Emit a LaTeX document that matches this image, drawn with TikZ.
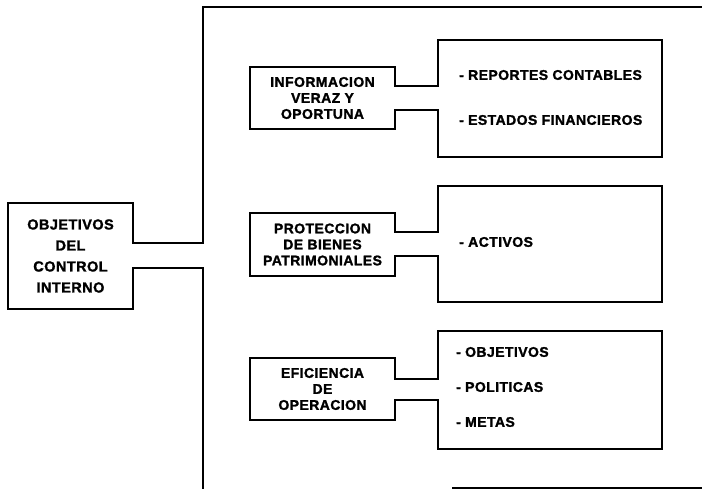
\documentclass[tikz,border=0pt]{standalone}
\usepackage{fontspec}
\setmainfont{Liberation Sans}
\newfontfamily\lblfont[LetterSpace=3, FakeBold=1.5]{Liberation Sans}
\usetikzlibrary{calc}
\begin{document}
\begin{tikzpicture}[x=1pt,y=-1pt,
  outline/.style={line width=2pt, line join=miter},
  boxnode/.style={rectangle, inner sep=0pt, outer sep=0pt, align=center,
    font=\lblfont\bfseries\fontsize{14}{16}\selectfont},
  item/.style={anchor=west, inner sep=0pt,
    font=\lblfont\bfseries\fontsize{14}{16}\selectfont}]
\useasboundingbox (0,0) rectangle (702,489);

% boxes
\node[boxnode, minimum width=125pt, minimum height=106pt,
      font=\lblfont\bfseries\fontsize{14.5}{21}\selectfont] (L) at (70.5,256)
      {OBJETIVOS\\DEL\\CONTROL\\INTERNO};
\node[boxnode, minimum width=145pt, minimum height=62pt] (m1) at (322.5,98)
      {INFORMACION\\VERAZ Y\\OPORTUNA};
\node[boxnode, minimum width=145pt, minimum height=63pt] (m2) at (322.5,244.5)
      {PROTECCION\\DE BIENES\\PATRIMONIALES};
\node[boxnode, minimum width=145pt, minimum height=62pt] (m3) at (322.5,389)
      {EFICIENCIA\\DE\\OPERACION};
\node[boxnode, minimum width=224pt, minimum height=117pt] (r1) at (550,98.5) {};
\node[boxnode, minimum width=224pt, minimum height=116pt] (r2) at (550,244) {};
\node[boxnode, minimum width=224pt, minimum height=118pt] (r3) at (550,390) {};

% items
\node[item] (t1a) at (459,75) {- REPORTES CONTABLES};
\node[item] (t1b) at (459,120) {- ESTADOS FINANCIEROS};
\node[item] (t2a) at (459,242) {- ACTIVOS};
\node[item] (t3a) at (456,352) {- OBJETIVOS};
\node[item] (t3b) at (456,387) {- POLITICAS};
\node[item] (t3c) at (456,422) {- METAS};

% frame with left box
\coordinate (fa) at ($(L.east)+(0,-12.5)$);
\coordinate (fb) at ($(L.east)+(0,12.5)$);
\coordinate (ftl) at (203,7);
\coordinate (ftr) at (712,7);
\coordinate (fbl) at (203,495);
\draw[outline] (ftr) -- (ftl) -- (fa -| ftl) -- (fa) -- (L.north east) -- (L.north west)
  -- (L.south west) -- (L.south east) -- (fb) -- (fb -| ftl) -- (fbl);
\coordinate (bl1) at (452,487.5);
\coordinate (bl2) at (712,487.5);
\draw[outline] (bl1) -- (bl2);

% middle-to-right pipes
\foreach \m/\r/\h in {m1/r1/12, m2/r2/12, m3/r3/10.5}{
  \coordinate (pa) at ($(\m.east)+(0,-\h)$);
  \coordinate (pb) at ($(\m.east)+(0,\h)$);
  \draw[outline] (\m.north west) -- (\m.north east) -- (pa) -- (pa -| \r.west)
    -- (\r.north west) -- (\r.north east) -- (\r.south east) -- (\r.south west)
    -- (pb -| \r.west) -- (pb) -- (\m.south east) -- (\m.south west) -- cycle;
}
\end{tikzpicture}
\end{document}
